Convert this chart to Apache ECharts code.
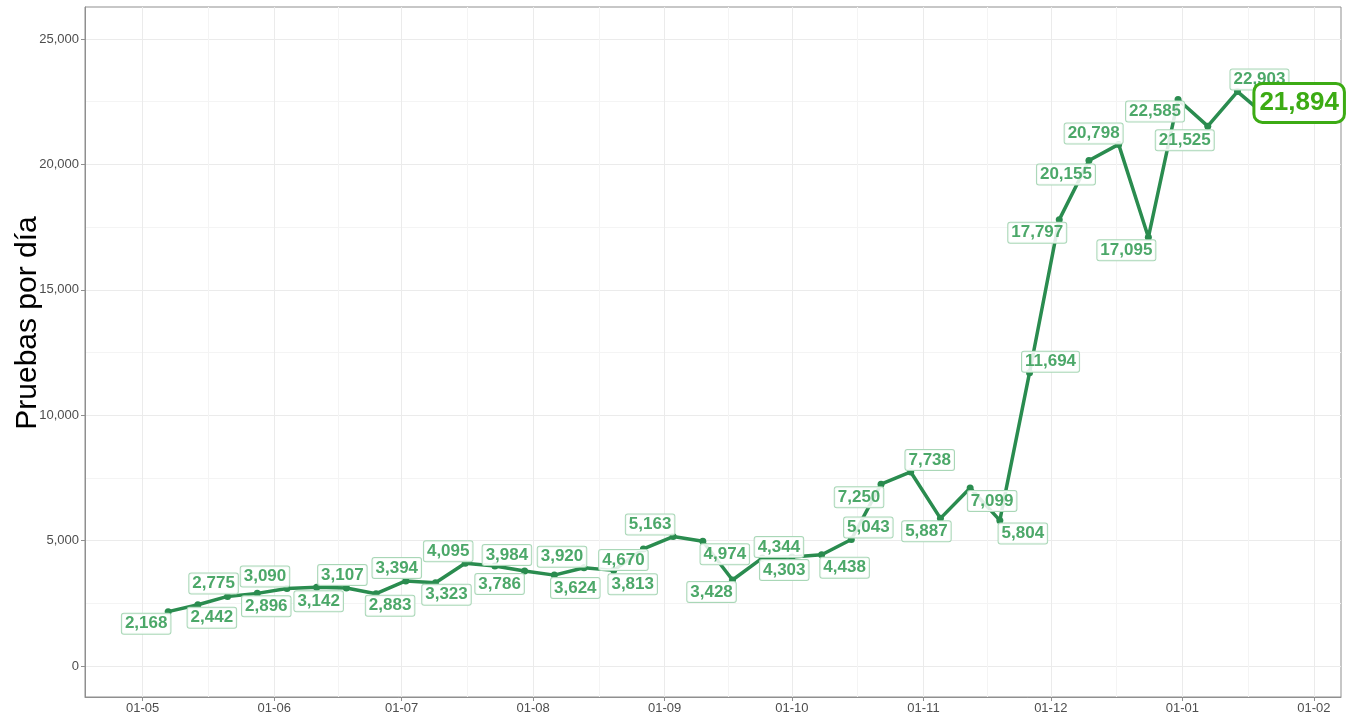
<!DOCTYPE html>
<html><head><meta charset="utf-8">
<script src="https://cdn.jsdelivr.net/npm/echarts@6/dist/echarts.min.js"></script>
<style>html,body{margin:0;padding:0;background:#fff}#c{width:1346px;height:715px}</style>
</head><body><div id="c"></div>
<script>
// ---- data ----
const dates = ['2020-05-07','2020-05-14','2020-05-21','2020-05-28','2020-06-04','2020-06-11','2020-06-18','2020-06-25',
  '2020-07-02','2020-07-09','2020-07-16','2020-07-23','2020-07-30','2020-08-06','2020-08-13','2020-08-20','2020-08-27',
  '2020-09-03','2020-09-10','2020-09-17','2020-09-24','2020-10-01','2020-10-08','2020-10-15','2020-10-22','2020-10-29',
  '2020-11-05','2020-11-12','2020-11-19','2020-11-26','2020-12-03','2020-12-10','2020-12-17','2020-12-24','2020-12-31',
  '2021-01-07','2021-01-14','2021-01-21'];
const values = [2168,2442,2775,2896,3090,3142,3107,2883,3394,3323,4095,3984,3786,3624,3920,3813,4670,5163,4974,3428,
  4303,4344,4438,5043,7250,7738,5887,7099,5804,11694,17797,20155,20798,17095,22585,21525,22903,21894];
const monthTicks = ['2020-05-01','2020-06-01','2020-07-01','2020-08-01','2020-09-01','2020-10-01','2020-11-01',
  '2020-12-01','2021-01-01','2021-02-01'];
const yTicks = [0,5000,10000,15000,20000,25000];
const yMinorTicks = [2500,7500,12500,17500,22500];
const yTitle = 'Pruebas por día';

// ---- layout (label offsets relative to each point, px) ----
const labelOffsets = [[-22,12],[14,13],[-14,-13],[9,13],[-22,-12],[2,14],[-4,-13],[14,12],[-9,-13],[11,12],
  [-17,-12],[12,-11],[-25,13],[21,13],[-22,-11],[19,14],[-20,11],[-23,-12],[22,13],[-21,12],
  [22,12],[-13,-10],[23,13],[17,-12],[-22,13],[19,-12],[-14,13],[22,13],[23,13],[21,-11],
  [-22,13],[-23,14],[-25,-11],[-22,13],[-23,12],[-23,14],[22,-12],[32,-14]];

const DAY = 86400000;
function ts(s){const p=s.split('-').map(Number);return Date.UTC(p[0],p[1]-1,p[2]);}
function fmt(v){return Number(v).toLocaleString('en-US');}
const majorX = monthTicks.map(ts);
const minorX = majorX.slice(1).map((t,i)=> (t+majorX[i])/2);
const xMin = ts('2020-05-01') - 13.6*DAY;
const xMax = ts('2020-05-01') + 282.4*DAY;
const yMin = -1236, yMax = 26276;

const lineColor = '#2a8c4f';
const fontFam = 'Liberation Sans, Arial, sans-serif';
const smallLabel = {
  show:true, position:'inside', color:'#4ca869', fontSize:17, lineHeight:17, fontWeight:'bold',
  fontFamily:fontFam, backgroundColor:'rgba(255,255,255,0.85)',
  borderColor:'#a9d7b7', borderWidth:1, borderRadius:2, padding:[2,3,1,3]
};
const bigLabel = {
  show:true, position:'inside', color:'#3cab14', fontSize:26, lineHeight:30, fontWeight:'bold',
  fontFamily:fontFam, backgroundColor:'#ffffff',
  borderColor:'#3cab14', borderWidth:3, borderRadius:7, padding:[3,4]
};

const seriesData = dates.map((d,i)=>{
  const last = i === dates.length-1;
  return {
    value:[ts(d), values[i]],
    label: Object.assign({}, last ? bigLabel : smallLabel, {formatter: fmt(values[i])})
  };
});

function dm(v){const d=new Date(v);return String(d.getUTCDate()).padStart(2,'0')+'-'+String(d.getUTCMonth()+1).padStart(2,'0');}

const chart = echarts.init(document.getElementById('c'), null, {renderer:'canvas'});
chart.setOption({
  animation:false,
  backgroundColor:'#ffffff',
  grid:{left:85, right:5, top:7, bottom:18, show:true, borderColor:'#8f8f8f', borderWidth:1, containLabel:false},
  xAxis:[
    {type:'value', min:xMin, max:xMax, scale:true,
     axisLine:{show:true, onZero:false, lineStyle:{color:'#8f8f8f', width:1}},
     axisTick:{show:true, length:4, customValues:majorX, lineStyle:{color:'#8f8f8f'}},
     axisLabel:{show:true, customValues:majorX, margin:5, color:'#4d4d4d', fontSize:13, fontFamily:fontFam, formatter:dm},
     splitLine:{show:true, lineStyle:{color:'#ebebeb', width:1}}},
    {type:'value', min:xMin, max:xMax, scale:true, position:'bottom',
     axisLine:{show:false}, axisTick:{show:false, customValues:minorX}, axisLabel:{show:false, customValues:minorX},
     splitLine:{show:true, lineStyle:{color:'#f4f4f4', width:1}}}
  ],
  yAxis:[
    {type:'value', min:yMin, max:yMax,
     axisLine:{show:true, onZero:false, lineStyle:{color:'#8f8f8f', width:1}},
     axisTick:{show:true, length:4, customValues:yTicks, lineStyle:{color:'#8f8f8f'}},
     axisLabel:{show:true, customValues:yTicks, margin:6, color:'#4d4d4d', fontSize:13, fontFamily:fontFam, formatter:(v)=>fmt(v)},
     splitLine:{show:true, lineStyle:{color:'#ebebeb', width:1}}},
    {type:'value', min:yMin, max:yMax, position:'left',
     axisLine:{show:false}, axisTick:{show:false, customValues:yMinorTicks}, axisLabel:{show:false, customValues:yMinorTicks},
     splitLine:{show:true, lineStyle:{color:'#f4f4f4', width:1}}}
  ],
  graphic:[{type:'text', x:28, y:323, rotation:Math.PI/2,
    style:{text:yTitle, fill:'#000', font:'30px Liberation Sans, Arial, sans-serif', textAlign:'center', textVerticalAlign:'middle'}}],
  series:[{
    type:'line', xAxisIndex:0, yAxisIndex:0, data:seriesData,
    symbol:'circle', symbolSize:7, showAllSymbol:true,
    lineStyle:{color:lineColor, width:3.5}, itemStyle:{color:lineColor},
    labelLayout:(p)=>({dx:labelOffsets[p.dataIndex][0], dy:labelOffsets[p.dataIndex][1], hideOverlap:false}),
    z:5
  }]
});
</script></body></html>
